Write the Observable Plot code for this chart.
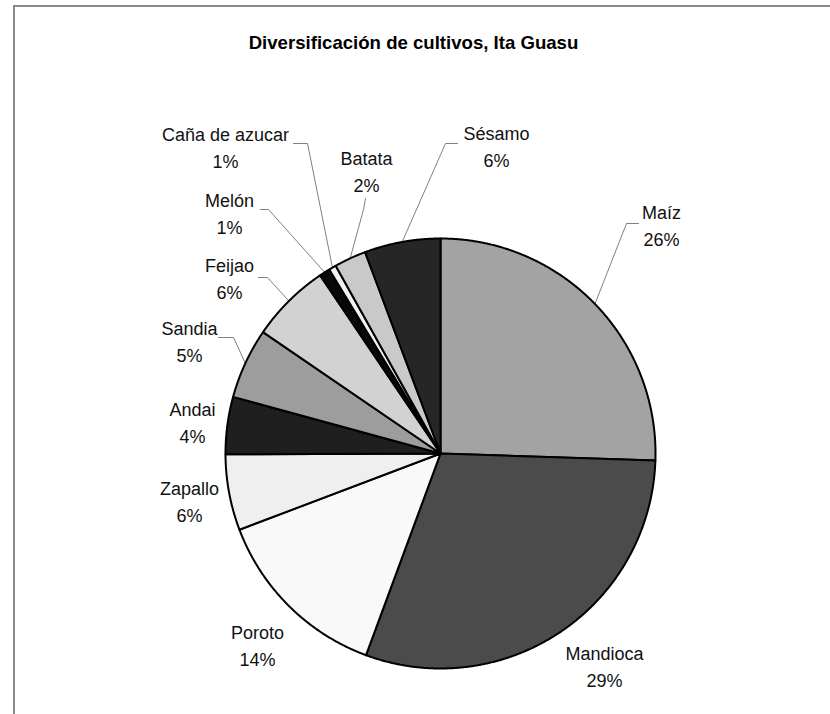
<!DOCTYPE html>
<html><head><meta charset="utf-8">
<script src="https://cdn.jsdelivr.net/npm/d3@7"></script>
<script src="https://cdn.jsdelivr.net/npm/@observablehq/plot@0.6"></script>
<style>
body{margin:0;background:#fff;}
#wrap{position:relative;width:830px;height:714px;overflow:hidden;background:#fff;}
#chart{position:absolute;left:0;top:0;}
#border{position:absolute;left:13px;top:5px;right:-10px;bottom:-10px;border-left:2px solid #8a8a8a;border-top:2px solid #8a8a8a;pointer-events:none;z-index:2;}
</style></head><body>
<div id="wrap"><div id="chart"></div><div id="border"></div></div>
<script>
// ---- data ----
const title = "Diversificación de cultivos, Ita Guasu";
const crops = ["Maíz","Mandioca","Poroto","Zapallo","Andai","Sandia","Feijao","Melón","Caña de azucar","Batata","Sésamo"];
const shares = [25.5, 30.1, 13.6, 5.7, 4.3, 5.3, 6.0, 0.8, 0.55, 2.4, 5.7];
const pctLabels = ["26%","29%","14%","6%","4%","5%","6%","1%","1%","2%","6%"];

// ---- styles / layout ----
const fills = ["#a3a3a3","#4b4b4b","#f9f9f9","#efefef","#1f1f1f","#9d9d9d","#d2d2d2","#080808","#f2f2f2","#c9c9c9","#262626"];
const W = 830, H = 714, CX = 440, CY = 453, R = 215;
// label centres (page px)
const labelPos = [[661,223],[604,664],[257,643],[189,499],[192,420],[189,339],[229,276],[229,211],[225,145],[366,169],[496,144]];
// leader start + elbow (page px), null = no leader
const leaderPos = [[[638,223],[626,223]], null, null, null, null,
  [[218,337],[233,337]], [[258,277],[267,277]], [[260,209],[268,209]],
  [[293,143],[307,143]], [[365,198],[363,209]], [[457,143],[445,143]]];

const U = ([px,py]) => [(px-CX)/R, (py-CY)/R];
const pt = a => [Math.sin(a), -Math.cos(a)];

const total = d3.sum(shares);
let acc = 0;
const slices = crops.map((name,i) => {
  const a0 = acc/total*2*Math.PI; acc += shares[i]; const a1 = acc/total*2*Math.PI;
  return {name, a0, a1, mid:(a0+a1)/2, fill:fills[i], pct:pctLabels[i]};
});

const sliceFeatures = slices.map(s => {
  const n = Math.max(2, Math.ceil((s.a1-s.a0)/(Math.PI/720)));
  const ring = [[0,0]];
  for (let k=0;k<=n;k++) ring.push(pt(s.a0+(s.a1-s.a0)*k/n));
  ring.push([0,0]);
  return {type:"Feature", properties:{fill:s.fill, name:s.name}, geometry:{type:"Polygon", coordinates:[ring]}};
});

const leaderFeatures = slices.map((s,i) => leaderPos[i] ? {
  type:"Feature", properties:{name:s.name},
  geometry:{type:"LineString", coordinates:[U(leaderPos[i][0]), U(leaderPos[i][1]), pt(s.mid)]}
} : null).filter(d => d);

const labels = slices.map((s,i) => {
  const [u,v] = U(labelPos[i]);
  return {u, v, text: s.name + "\n" + s.pct};
});
const [tu, tv] = U([413, 43]);

const domain = {type:"MultiPoint", coordinates:[[-CX/R, -CY/R], [(W-CX)/R, (H-CY)/R]]};

const font = "'Liberation Sans', Arial, Helvetica, sans-serif";
const chart = Plot.plot({
  width: W, height: H, margin: 0,
  projection: {type:"identity", domain, clip: false, inset: 0},
  color: {type:"identity"},
  style: {background:"transparent", overflow:"visible", fontFamily: font},
  marks: [
    Plot.geo(leaderFeatures, {stroke:"#808080", strokeWidth:1, fill:"none"}),
    Plot.geo(sliceFeatures, {fill: d => d.properties.fill, stroke:"#000", strokeWidth:2, strokeLinejoin:"round"}),
    Plot.text(labels, {x:"u", y:"v", text:"text", fontSize:18, lineHeight:1.5, fill:"#111", fontFamily: font}),
    Plot.text([title], {x:[tu], y:[tv], text: d => d, fontSize:18.6, fontWeight:"bold", fill:"#000", fontFamily: font})
  ]
});
document.getElementById("chart").appendChild(chart);
</script>
</body></html>
